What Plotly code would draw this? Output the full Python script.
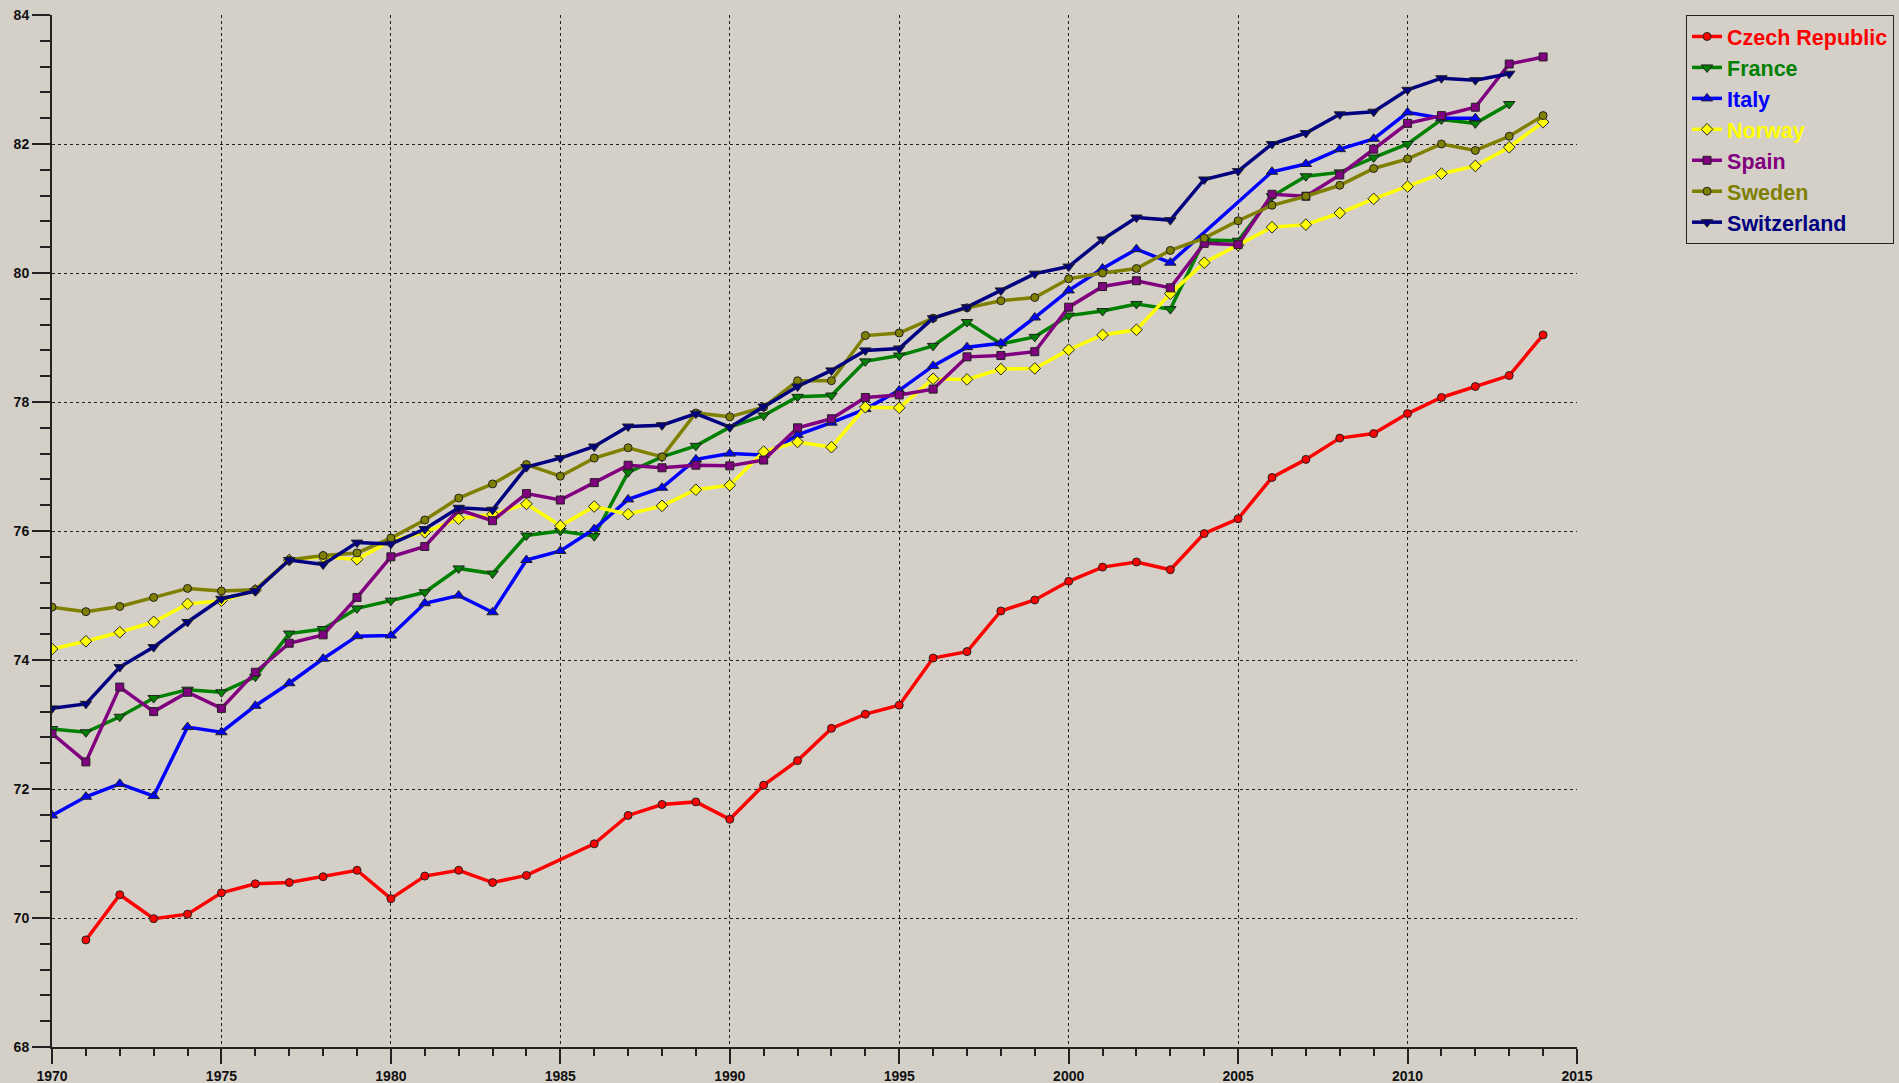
import plotly.graph_objects as go

years = list(range(1970, 2015))

czech = [None, 69.66, 70.36, 69.99, 70.06, 70.39, 70.53, 70.55, 70.64, 70.74,
         70.30, 70.65, 70.74, 70.55, 70.66, None, 71.15, 71.59, 71.76, 71.80,
         71.53, 72.06, 72.44, 72.94, 73.16, 73.30, 74.03, 74.13, 74.76, 74.93,
         75.22, 75.44, 75.52, 75.40, 75.96, 76.19, 76.83, 77.11, 77.44, 77.51,
         77.82, 78.07, 78.24, 78.41, 79.04]
france = [72.93, 72.88, 73.12, 73.41, 73.54, 73.50, 73.74, 74.41, 74.48, 74.80,
          74.92, 75.05, 75.42, 75.34, 75.93, 76.00, 75.92, 76.91, 77.15, 77.32,
          77.61, 77.79, 78.08, 78.10, 78.63, 78.72, 78.87, 79.24, 78.90, 79.01,
          79.34, 79.41, 79.52, 79.44, 80.51, 80.50, 81.19, 81.50, 81.56, 81.79,
          82.00, 82.38, 82.32, 82.62, None]
italy = [71.59, 71.88, 72.08, 71.89, 72.96, 72.88, 73.29, 73.64, 74.02, 74.37,
         74.38, 74.88, 75.00, 74.74, 75.55, 75.69, 76.03, 76.49, 76.67, 77.11,
         77.20, 77.18, 77.49, 77.68, 77.89, 78.18, 78.56, 78.85, 78.91, 79.31,
         79.73, 80.07, 80.37, 80.16, None, None, 81.57, 81.69, 81.92, 82.08,
         82.49, 82.40, 82.40, None, None]
norway = [74.17, 74.29, 74.43, 74.59, 74.87, 74.92, 75.08, 75.55, 75.60, 75.56,
          75.85, 75.98, 76.19, 76.26, 76.42, 76.08, 76.38, 76.26, 76.39, 76.64,
          76.71, 77.23, 77.38, 77.30, 77.92, 77.91, 78.36, 78.35, 78.51, 78.52,
          78.81, 79.04, 79.12, 79.68, 80.16, 80.43, 80.71, 80.75, 80.93, 81.15,
          81.34, 81.54, 81.66, 81.95, 82.34]
spain = [72.86, 72.42, 73.58, 73.20, 73.50, 73.25, 73.81, 74.26, 74.39, 74.97,
         75.60, 75.76, 76.33, 76.16, 76.58, 76.48, 76.75, 77.02, 76.98, 77.02,
         77.01, 77.10, 77.60, 77.74, 78.07, 78.11, 78.20, 78.70, 78.72, 78.78,
         79.47, 79.79, 79.88, 79.77, 80.46, 80.44, 81.22, 81.19, 81.52, 81.92,
         82.32, 82.44, 82.57, 83.24, 83.35]
sweden = [74.82, 74.75, 74.83, 74.97, 75.11, 75.07, 75.09, 75.55, 75.62, 75.66,
          75.89, 76.17, 76.51, 76.73, 77.03, 76.85, 77.13, 77.29, 77.15, 77.83,
          77.77, 77.92, 78.33, 78.33, 79.03, 79.07, 79.30, 79.46, 79.57, 79.62,
          79.91, 80.00, 80.07, 80.35, 80.54, 80.81, 81.05, 81.19, 81.36, 81.62,
          81.77, 82.00, 81.90, 82.12, 82.44]
switzerland = [73.25, 73.32, 73.89, 74.20, 74.59, 74.95, 75.07, 75.55, 75.48, 75.82,
               75.80, 76.03, 76.36, 76.33, 76.99, 77.13, 77.31, 77.62, 77.64, 77.82,
               77.61, 77.93, 78.24, 78.49, 78.80, 78.83, 79.30, 79.47, 79.73, 79.99,
               80.10, 80.52, 80.86, 80.82, 81.45, 81.58, 82.00, 82.17, 82.46, 82.50,
               82.84, 83.02, 82.99, 83.09, None]

series = [
    ('Czech Republic', czech, '#ff0000', 'circle', 8),
    ('France', france, '#008000', 'triangle-down', 10),
    ('Italy', italy, '#0000ff', 'triangle-up', 10),
    ('Norway', norway, '#ffff00', 'diamond', 9),
    ('Spain', spain, '#800080', 'square', 8),
    ('Sweden', sweden, '#808000', 'circle', 8),
    ('Switzerland', switzerland, '#000080', 'triangle-down', 10),
]

BG = '#d4d0c8'

fig = go.Figure()

for name, values, color, symbol, size in series:
    fig.add_trace(go.Scatter(
        x=years,
        y=values,
        mode='lines+markers',
        name=f"<span style='color:{color}'><b>{name}</b></span>",
        legendgroup=name,
        connectgaps=True,
        line=dict(color=color, width=3.5),
        marker=dict(symbol=symbol, size=size, color=color,
                    line=dict(color='#222222', width=1))
    ))

tick_font = dict(family='Liberation Sans, Arial, sans-serif', size=14, color='#111111', weight='bold')

fig.update_layout(
    width=1899,
    height=1083,
    paper_bgcolor=BG,
    plot_bgcolor=BG,
    margin=dict(l=52, r=322, t=15, b=36, autoexpand=False),
    showlegend=True,
    legend=dict(
        x=1.0715, y=1.0, xanchor='left', yanchor='top',
        bgcolor=BG,
        bordercolor='#222222',
        borderwidth=1,
        tracegroupgap=0,
        font=dict(family='Liberation Sans, Arial, sans-serif', size=21.5),
        itemwidth=30,
    ),
    xaxis=dict(
        range=[1970, 2015],
        dtick=5,
        tick0=1970,
        showgrid=True,
        gridcolor='#222222',
        griddash='dot',
        gridwidth=1,
        showline=True,
        linecolor='#222222',
        linewidth=2,
        ticks='outside',
        ticklen=15,
        tickwidth=2,
        tickcolor='#222222',
        tickfont=tick_font,
        zeroline=False,
        minor=dict(dtick=1, ticks='outside', ticklen=7, tickwidth=2,
                   tickcolor='#222222', showgrid=False),
    ),
    yaxis=dict(
        range=[68, 84],
        dtick=2,
        tick0=68,
        showgrid=True,
        gridcolor='#222222',
        griddash='dot',
        gridwidth=1,
        showline=True,
        linecolor='#222222',
        linewidth=2,
        ticks='outside',
        ticklen=18,
        tickwidth=2,
        tickcolor='#222222',
        tickfont=tick_font,
        zeroline=False,
        minor=dict(dtick=0.4, ticks='outside', ticklen=10, tickwidth=2,
                   tickcolor='#222222', showgrid=False),
    ),
)

# the page body has a default 8px margin; drop it so the figure fills the window
fig.write_html(
    "out.html",
    config={'displayModeBar': False},
    post_script="document.body.style.margin='0';document.body.style.overflow='hidden';",
)
